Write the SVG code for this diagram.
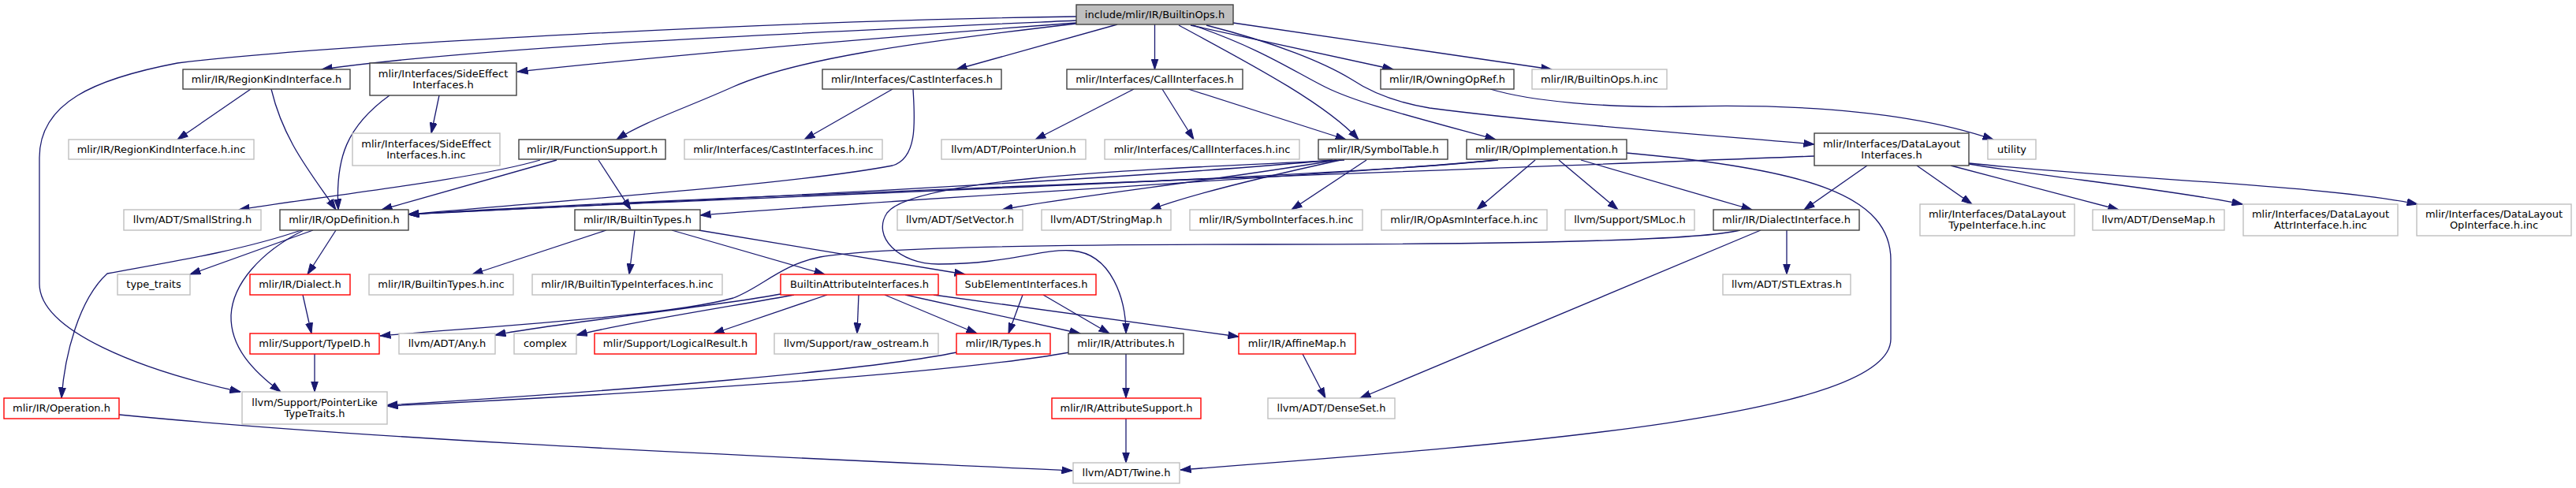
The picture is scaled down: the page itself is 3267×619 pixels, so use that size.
<svg xmlns="http://www.w3.org/2000/svg" width="3267" height="619" viewBox="0 0 3267 619">
<style>
rect{stroke-width:1.4}
.b{fill:#fff;stroke:#404040}
.g{fill:#fff;stroke:#bfbfbf}
.r{fill:#fff;stroke:#ff0000}
.rt{fill:#bfbfbf;stroke:#404040}
text{font-family:"DejaVu Sans","Liberation Sans",sans-serif;font-size:13px;fill:#000;text-anchor:middle}
.e path{fill:none;stroke:#191970;stroke-width:1.3}
</style>
<defs>
<marker id="ah" markerUnits="userSpaceOnUse" markerWidth="14" markerHeight="10" viewBox="0 0 14 10" refX="13.5" refY="5" orient="auto">
<path d="M0,0.5 L13.5,5 L0,9.5 z" fill="#191970" stroke="#191970" stroke-width="1"/>
</marker>
</defs>
<rect width="3267" height="619" fill="#fff"/>
<g class="e" marker-end="url(#ah)">
<path marker-end="url(#ah)" d="M1365,26 C1050,40 620,58 408,88"/>
<path marker-end="url(#ah)" d="M1365,29 C1150,45 900,65 656,91"/>
<path marker-end="url(#ah)" d="M1365,30 C1150,55 1010,75 930,110 C870,137 815,155 782,177"/>
<path marker-end="url(#ah)" d="M1365,21 C1000,26 420,56 225,80 C120,100 50,130 50,200 L50,360 C50,420 180,470 305,497"/>
<path marker-end="url(#ah)" d="M1417,31 L1213,88"/>
<path marker-end="url(#ah)" d="M1464.5,31 L1464.5,88"/>
<path marker-end="url(#ah)" d="M1495,32 C1580,78 1680,130 1723,177"/>
<path marker-end="url(#ah)" d="M1513,32 C1600,62 1640,90 1680,110 C1720,130 1780,145 1897,177"/>
<path marker-end="url(#ah)" d="M1530,32 C1620,55 1680,80 1713,100 C1740,118 1770,130 1813,137 C1950,155 2150,170 2301,183"/>
<path marker-end="url(#ah)" d="M1510,32 L1767,88"/>
<path marker-end="url(#ah)" d="M1564,29 L1968,88"/>
<path marker-end="url(#ah)" d="M1890,113 C1940,128 2030,137 2140,135 C2280,132 2420,140 2528,177"/>
<path marker-end="url(#ah)" d="M318,113 L225,177"/>
<path marker-end="url(#ah)" d="M344,113 C360,180 395,220 426,266"/>
<path marker-end="url(#ah)" d="M557,121 L547,169"/>
<path marker-end="url(#ah)" d="M494,121 C440,160 425,200 429,266"/>
<path marker-end="url(#ah)" d="M1132,113 L1020,177"/>
<path marker-end="url(#ah)" d="M1158,113 C1160,150 1165,200 1132,210 C1000,235 700,255 518,272"/>
<path marker-end="url(#ah)" d="M1438,113 L1313,177"/>
<path marker-end="url(#ah)" d="M1474,113 L1514,177"/>
<path marker-end="url(#ah)" d="M1507,113 L1707,177"/>
<path marker-end="url(#ah)" d="M685,203 C600,228 400,250 303,266"/>
<path marker-end="url(#ah)" d="M706,203 L484,266"/>
<path marker-end="url(#ah)" d="M759,203 L800,266"/>
<path marker-end="url(#ah)" d="M1733,203 L1638,266"/>
<path marker-end="url(#ah)" d="M1690,203 C1400,230 800,258 518,272"/>
<path marker-end="url(#ah)" d="M1695,203 C1550,228 1350,250 1271,266"/>
<path marker-end="url(#ah)" d="M1700,203 C1600,225 1500,250 1459,266"/>
<path marker-end="url(#ah)" d="M1705,203 C1450,215 1160,225 1125,270 C1105,300 1140,335 1190,335 C1280,335 1320,315 1360,318 C1410,322 1428,380 1428,423"/>
<path marker-end="url(#ah)" d="M1895,203 C1700,226 800,255 518,272"/>
<path marker-end="url(#ah)" d="M1900,203 C1700,222 1100,255 888,273"/>
<path marker-end="url(#ah)" d="M1947,203 L1873,266"/>
<path marker-end="url(#ah)" d="M1977,203 L2052,266"/>
<path marker-end="url(#ah)" d="M2005,203 L2222,266"/>
<path marker-end="url(#ah)" d="M2063,194 C2300,215 2398,250 2398,330 L2398,430 C2398,530 1900,565 1497,596"/>
<path marker-end="url(#ah)" d="M2301,198 C2000,210 800,252 518,272"/>
<path marker-end="url(#ah)" d="M2368,210 L2288,266"/>
<path marker-end="url(#ah)" d="M2431,210 L2501,259"/>
<path marker-end="url(#ah)" d="M2474,210 L2687,266"/>
<path marker-end="url(#ah)" d="M2497,208 C2600,225 2750,240 2844,259"/>
<path marker-end="url(#ah)" d="M2497,207 C2700,228 2950,235 3066,259"/>
<path marker-end="url(#ah)" d="M2266,292 L2266,348"/>
<path marker-end="url(#ah)" d="M2233,292 L1725,505"/>
<path marker-end="url(#ah)" d="M2207,292 C2150,306 1900,310 1600,310 C1300,310 1100,315 1040,326 C990,336 965,365 930,378 C850,400 650,412 482,426"/>
<path marker-end="url(#ah)" d="M397,292 L241,348"/>
<path marker-end="url(#ah)" d="M382,292 C300,320 200,335 136,347 C100,380 82,450 78,505"/>
<path marker-end="url(#ah)" d="M385,292 C330,320 295,360 293,400 C292,440 320,470 356,497"/>
<path marker-end="url(#ah)" d="M426,292 L390,348"/>
<path marker-end="url(#ah)" d="M769,292 L599,348"/>
<path marker-end="url(#ah)" d="M805,292 L798,348"/>
<path marker-end="url(#ah)" d="M852,292 L1046,348"/>
<path marker-end="url(#ah)" d="M886,292 L1224,348"/>
<path marker-end="url(#ah)" d="M384,374 L395,423"/>
<path marker-end="url(#ah)" d="M990,373 C900,390 700,410 628,425"/>
<path marker-end="url(#ah)" d="M1007,374 C950,385 800,408 731,425"/>
<path marker-end="url(#ah)" d="M1049,374 L905,423"/>
<path marker-end="url(#ah)" d="M1089,374 L1087,423"/>
<path marker-end="url(#ah)" d="M1122,374 L1239,423"/>
<path marker-end="url(#ah)" d="M1148,374 L1370,423"/>
<path marker-end="url(#ah)" d="M1184,374 L1571,427"/>
<path marker-end="url(#ah)" d="M1297,374 L1279,423"/>
<path marker-end="url(#ah)" d="M1323,374 L1407,423"/>
<path marker-end="url(#ah)" d="M399,449 L399,497"/>
<path marker-end="url(#ah)" d="M1213,447 C1100,470 800,495 491,514"/>
<path marker-end="url(#ah)" d="M1356,447 C1200,475 800,500 491,515"/>
<path marker-end="url(#ah)" d="M1428,449 L1428,505"/>
<path marker-end="url(#ah)" d="M1652,449 L1681,505"/>
<path marker-end="url(#ah)" d="M1428,531 L1428,587"/>
<path marker-end="url(#ah)" d="M151,526 C500,560 1000,580 1360,597"/>
</g>
<g id="n_root"><rect class="rt" x="1365" y="6" width="199" height="25"/><text x="1464.5" y="22.5">include/mlir/IR/BuiltinOps.h</text></g>
<g id="n_regionkind"><rect class="b" x="232" y="88" width="212" height="25"/><text x="338" y="104.5">mlir/IR/RegionKindInterface.h</text></g>
<g id="n_sideeffect"><rect class="b" x="469" y="80" width="186" height="41"/><text x="562" y="97.5">mlir/Interfaces/SideEffect</text><text x="562" y="111.5">Interfaces.h</text></g>
<g id="n_castif"><rect class="b" x="1043" y="88" width="227" height="25"/><text x="1156.5" y="104.5">mlir/Interfaces/CastInterfaces.h</text></g>
<g id="n_callif"><rect class="b" x="1353" y="88" width="223" height="25"/><text x="1464.5" y="104.5">mlir/Interfaces/CallInterfaces.h</text></g>
<g id="n_owning"><rect class="b" x="1751" y="88" width="169" height="25"/><text x="1835.5" y="104.5">mlir/IR/OwningOpRef.h</text></g>
<g id="n_builtinops_inc"><rect class="g" x="1943" y="88" width="171" height="25"/><text x="2028.5" y="104.5">mlir/IR/BuiltinOps.h.inc</text></g>
<g id="n_regionkind_inc"><rect class="g" x="87" y="177" width="235" height="25"/><text x="204.5" y="193.5">mlir/IR/RegionKindInterface.h.inc</text></g>
<g id="n_sideeffect_inc"><rect class="g" x="447" y="169" width="187" height="41"/><text x="540.5" y="186.5">mlir/Interfaces/SideEffect</text><text x="540.5" y="200.5">Interfaces.h.inc</text></g>
<g id="n_funcsupport"><rect class="b" x="658" y="177" width="186" height="25"/><text x="751" y="193.5">mlir/IR/FunctionSupport.h</text></g>
<g id="n_castif_inc"><rect class="g" x="868" y="177" width="251" height="25"/><text x="993.5" y="193.5">mlir/Interfaces/CastInterfaces.h.inc</text></g>
<g id="n_pointerunion"><rect class="g" x="1194" y="177" width="183" height="25"/><text x="1285.5" y="193.5">llvm/ADT/PointerUnion.h</text></g>
<g id="n_callif_inc"><rect class="g" x="1401" y="177" width="247" height="25"/><text x="1524.5" y="193.5">mlir/Interfaces/CallInterfaces.h.inc</text></g>
<g id="n_symboltable"><rect class="b" x="1672" y="177" width="164" height="25"/><text x="1754" y="193.5">mlir/IR/SymbolTable.h</text></g>
<g id="n_opimpl"><rect class="b" x="1860" y="177" width="203" height="25"/><text x="1961.5" y="193.5">mlir/IR/OpImplementation.h</text></g>
<g id="n_datalayout"><rect class="b" x="2301" y="169" width="196" height="41"/><text x="2399" y="186.5">mlir/Interfaces/DataLayout</text><text x="2399" y="200.5">Interfaces.h</text></g>
<g id="n_utility"><rect class="g" x="2521" y="177" width="61" height="25"/><text x="2551.5" y="193.5">utility</text></g>
<g id="n_smallstring"><rect class="g" x="157" y="266" width="174" height="26"/><text x="244" y="283">llvm/ADT/SmallString.h</text></g>
<g id="n_opdef"><rect class="b" x="355" y="266" width="163" height="26"/><text x="436.5" y="283">mlir/IR/OpDefinition.h</text></g>
<g id="n_builtintypes"><rect class="b" x="729" y="266" width="159" height="26"/><text x="808.5" y="283">mlir/IR/BuiltinTypes.h</text></g>
<g id="n_setvector"><rect class="g" x="1138" y="266" width="159" height="26"/><text x="1217.5" y="283">llvm/ADT/SetVector.h</text></g>
<g id="n_stringmap"><rect class="g" x="1321" y="266" width="164" height="26"/><text x="1403" y="283">llvm/ADT/StringMap.h</text></g>
<g id="n_symif_inc"><rect class="g" x="1509" y="266" width="219" height="26"/><text x="1618.5" y="283">mlir/IR/SymbolInterfaces.h.inc</text></g>
<g id="n_opasm_inc"><rect class="g" x="1752" y="266" width="210" height="26"/><text x="1857" y="283">mlir/IR/OpAsmInterface.h.inc</text></g>
<g id="n_smloc"><rect class="g" x="1985" y="266" width="164" height="26"/><text x="2067" y="283">llvm/Support/SMLoc.h</text></g>
<g id="n_dialectif"><rect class="b" x="2173" y="266" width="185" height="26"/><text x="2265.5" y="283">mlir/IR/DialectInterface.h</text></g>
<g id="n_dltype_inc"><rect class="g" x="2435" y="259" width="196" height="40"/><text x="2533" y="276">mlir/Interfaces/DataLayout</text><text x="2533" y="290">TypeInterface.h.inc</text></g>
<g id="n_densemap"><rect class="g" x="2654" y="266" width="167" height="26"/><text x="2737.5" y="283">llvm/ADT/DenseMap.h</text></g>
<g id="n_dlattr_inc"><rect class="g" x="2845" y="259" width="196" height="40"/><text x="2943" y="276">mlir/Interfaces/DataLayout</text><text x="2943" y="290">AttrInterface.h.inc</text></g>
<g id="n_dlop_inc"><rect class="g" x="3065" y="259" width="196" height="40"/><text x="3163" y="276">mlir/Interfaces/DataLayout</text><text x="3163" y="290">OpInterface.h.inc</text></g>
<g id="n_typetraits"><rect class="g" x="149" y="348" width="92" height="26"/><text x="195" y="365">type_traits</text></g>
<g id="n_dialect"><rect class="r" x="317" y="348" width="127" height="26"/><text x="380.5" y="365">mlir/IR/Dialect.h</text></g>
<g id="n_builtintypes_inc"><rect class="g" x="468" y="348" width="183" height="26"/><text x="559.5" y="365">mlir/IR/BuiltinTypes.h.inc</text></g>
<g id="n_builtintypeif_inc"><rect class="g" x="675" y="348" width="241" height="26"/><text x="795.5" y="365">mlir/IR/BuiltinTypeInterfaces.h.inc</text></g>
<g id="n_bai"><rect class="r" x="990" y="348" width="200" height="26"/><text x="1090" y="365">BuiltinAttributeInterfaces.h</text></g>
<g id="n_subelement"><rect class="r" x="1213" y="348" width="177" height="26"/><text x="1301.5" y="365">SubElementInterfaces.h</text></g>
<g id="n_stlextras"><rect class="g" x="2185" y="348" width="162" height="26"/><text x="2266" y="365">llvm/ADT/STLExtras.h</text></g>
<g id="n_typeid"><rect class="r" x="317" y="423" width="164" height="26"/><text x="399" y="440">mlir/Support/TypeID.h</text></g>
<g id="n_any"><rect class="g" x="506" y="423" width="122" height="26"/><text x="567" y="440">llvm/ADT/Any.h</text></g>
<g id="n_complex"><rect class="g" x="652" y="423" width="79" height="26"/><text x="691.5" y="440">complex</text></g>
<g id="n_logicalresult"><rect class="r" x="754" y="423" width="205" height="26"/><text x="856.5" y="440">mlir/Support/LogicalResult.h</text></g>
<g id="n_rawostream"><rect class="g" x="982" y="423" width="208" height="26"/><text x="1086" y="440">llvm/Support/raw_ostream.h</text></g>
<g id="n_types"><rect class="r" x="1213" y="423" width="119" height="26"/><text x="1272.5" y="440">mlir/IR/Types.h</text></g>
<g id="n_attributes"><rect class="b" x="1355" y="423" width="146" height="26"/><text x="1428" y="440">mlir/IR/Attributes.h</text></g>
<g id="n_affinemap"><rect class="r" x="1571" y="423" width="148" height="26"/><text x="1645" y="440">mlir/IR/AffineMap.h</text></g>
<g id="n_pointerlike"><rect class="g" x="307" y="497" width="184" height="41"/><text x="399" y="514.5">llvm/Support/PointerLike</text><text x="399" y="528.5">TypeTraits.h</text></g>
<g id="n_operation"><rect class="r" x="5" y="505" width="146" height="26"/><text x="78" y="522">mlir/IR/Operation.h</text></g>
<g id="n_attrsupport"><rect class="r" x="1334" y="505" width="189" height="26"/><text x="1428.5" y="522">mlir/IR/AttributeSupport.h</text></g>
<g id="n_denseset"><rect class="g" x="1608" y="505" width="161" height="26"/><text x="1688.5" y="522">llvm/ADT/DenseSet.h</text></g>
<g id="n_twine"><rect class="g" x="1361" y="587" width="135" height="26"/><text x="1428.5" y="604">llvm/ADT/Twine.h</text></g>
</svg>
